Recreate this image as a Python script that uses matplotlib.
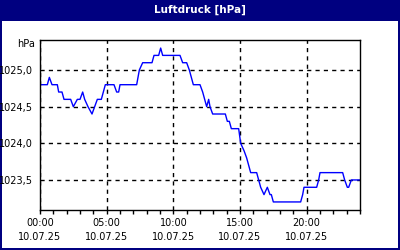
import matplotlib
matplotlib.use("Agg")
import matplotlib.pyplot as plt
from matplotlib.patches import Rectangle

# time of day in hours, pressure in hPa
hours = [0.0, 0.55, 0.7, 0.9, 1.3, 1.4, 1.65, 1.8, 2.3, 2.5, 2.8, 3.0, 3.2, 3.35,
         3.6, 3.9, 4.1, 4.3, 4.6, 4.75, 4.9, 5.55, 5.75, 5.9, 6.0, 7.25, 7.35,
         7.45, 7.7, 8.4, 8.55, 8.9, 9.05, 9.2, 10.5, 10.7, 11.0, 11.2, 11.35,
         11.5, 12.0, 12.2, 12.35, 12.5, 12.65, 12.75, 12.95, 13.9, 14.05, 14.2,
         14.35, 14.9, 15.05, 15.3, 15.5, 15.65, 15.8, 16.25, 16.4, 16.55, 16.8,
         17.05, 17.25, 17.35, 17.5, 19.55, 19.7, 19.8, 20.75, 20.9, 21.0, 22.7,
         22.85, 23.05, 23.15, 23.35, 24.0]
pressure = [1024.8, 1024.8, 1024.9, 1024.8, 1024.8, 1024.7, 1024.7, 1024.6, 1024.6,
            1024.5, 1024.6, 1024.6, 1024.7, 1024.6, 1024.5, 1024.4, 1024.5, 1024.6,
            1024.6, 1024.7, 1024.8, 1024.8, 1024.7, 1024.7, 1024.8, 1024.8, 1024.9,
            1025.0, 1025.1, 1025.1, 1025.2, 1025.2, 1025.3, 1025.2, 1025.2, 1025.1,
            1025.1, 1025.0, 1024.9, 1024.8, 1024.8, 1024.7, 1024.6, 1024.5, 1024.6,
            1024.5, 1024.4, 1024.4, 1024.3, 1024.3, 1024.2, 1024.2, 1024.0, 1023.9,
            1023.8, 1023.7, 1023.6, 1023.6, 1023.5, 1023.4, 1023.3, 1023.4, 1023.3,
            1023.3, 1023.2, 1023.2, 1023.3, 1023.4, 1023.4, 1023.5, 1023.6, 1023.6,
            1023.5, 1023.4, 1023.4, 1023.5, 1023.5]

xticks = [0, 5, 10, 15, 20]
xlabels = ["00:00\n10.07.25", "05:00\n10.07.25", "10:00\n10.07.25",
           "15:00\n10.07.25", "20:00\n10.07.25"]
yticks = [1023.5, 1024.0, 1024.5, 1025.0]
ylabels = ["1023,5", "1024,0", "1024,5", "1025,0"]

navy = "#000080"

fig = plt.figure(figsize=(4, 2.5), dpi=100)
fig.patch.set_facecolor(navy)
# white client area + title bar (behind the axes)
fig.add_artist(Rectangle((2 / 400, 2 / 250), 396 / 400, 227 / 250, transform=fig.transFigure,
                         facecolor="white", edgecolor="none", zorder=-10))
fig.text(0.5, 1 - 10 / 250, "Luftdruck [hPa]", color="white", fontsize=7.5,
         fontweight="bold", ha="center", va="center")

ax = fig.add_axes([40 / 400, 40 / 250, 320 / 400, 170 / 250])
ax.plot(hours, pressure, color="#0000ff", linewidth=1)

ax.set_xlim(0, 24)
ax.set_ylim(1023.09, 1025.41)
ax.set_xticks(xticks)
ax.set_xticklabels(xlabels, fontsize=7, linespacing=1.5)
ax.set_xticks(range(25), minor=True)
ax.set_yticks(yticks)
ax.set_yticklabels(ylabels, fontsize=7)
ax.tick_params(axis="x", which="both", length=3, width=1, direction="out", pad=3)
ax.tick_params(axis="y", length=0, pad=5)
ax.grid(True, color="black", linestyle=(0, (3, 3)), linewidth=1)
for s in ax.spines.values():
    s.set_linewidth(1)
    s.set_color("black")
ax.text(-0.016, 1025.36, "hPa", fontsize=7, ha="right", va="center",
        transform=ax.get_yaxis_transform())

fig.savefig("out.png", dpi=100, facecolor=navy)
